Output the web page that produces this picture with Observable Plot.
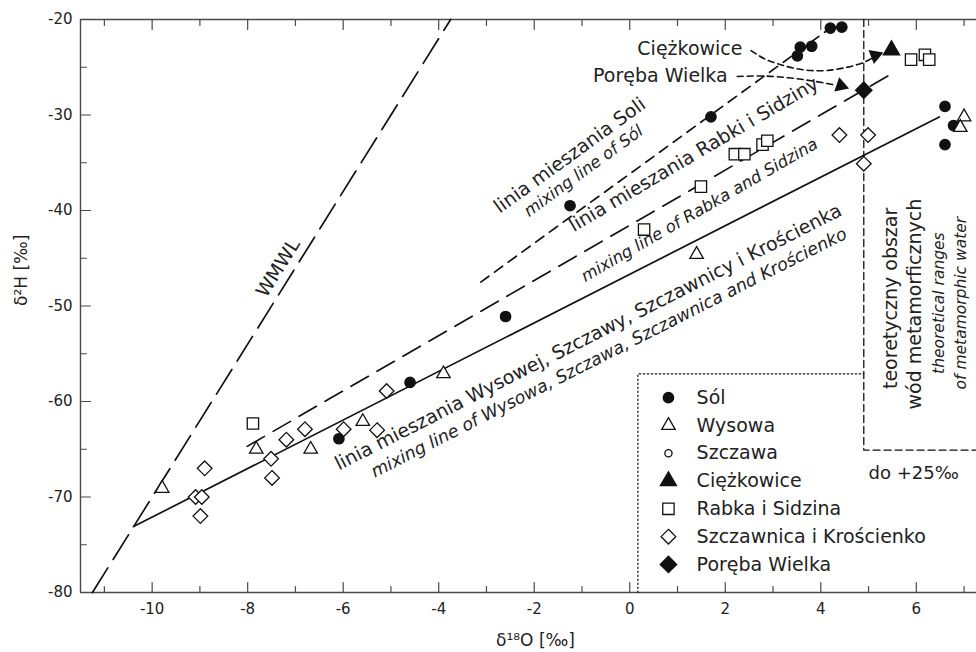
<!DOCTYPE html>
<html>
<head>
<meta charset="utf-8">
<script src="https://cdn.jsdelivr.net/npm/d3@7"></script>
<script src="https://cdn.jsdelivr.net/npm/@observablehq/plot@0.6"></script>
<style>
  html, body { margin: 0; padding: 0; background: #fff; overflow: hidden; }
  #chart svg { display: block; }
</style>
</head>
<body>
<div id="chart"></div>
<script>
// ---- Isotope data: δ18O (‰) and δ2H (‰) for each group of springs ----
const solO = [-6.09, -4.60, -2.60, -1.25, 1.70, 3.51, 3.57, 3.81, 4.20, 4.44, 6.60, 6.78, 6.60];
const solH = [-63.9, -58.0, -51.1, -39.5, -30.2, -23.8, -22.9, -22.8, -20.9, -20.8, -29.1, -31.1, -33.1];

const wysowaO = [-9.79, -7.82, -6.68, -5.59, -3.90, 1.40, 7.00, 6.92];
const wysowaH = [-69.1, -65.0, -65.0, -62.1, -57.1, -44.6, -30.2, -31.3];

const szczawaO = [];
const szczawaH = [];

const ciezkowiceO = [5.48];
const ciezkowiceH = [-23.2];

const rabkaO = [-7.89, 0.30, 1.49, 2.20, 2.40, 2.78, 2.88, 5.89, 6.18, 6.27];
const rabkaH = [-62.3, -42.0, -37.5, -34.1, -34.1, -33.1, -32.7, -24.2, -23.7, -24.2];

const szczawnicaO = [-8.90, -9.09, -8.96, -8.99, -7.51, -7.49, -7.19, -6.80, -5.99, -5.29, -5.09, 4.39, 4.99, 4.90];
const szczawnicaH = [-67.0, -70.0, -70.0, -72.0, -66.0, -68.0, -64.0, -62.9, -62.9, -63.0, -58.9, -32.1, -32.1, -35.1];

const porebaO = [4.90];
const porebaH = [-27.4];

// ---- Reference and mixing lines (end points, ‰) ----
const wmwlO = [-11.25, -3.75];
const wmwlH = [-80, -20];
const mixWysowaO = [-10.39, 6.48];
const mixWysowaH = [-73.1, -30.2];
const mixRabkaO = [-8.01, 5.55];
const mixRabkaH = [-64.7, -25.5];
const mixSolO = [-3.12, 4.20];
const mixSolH = [-47.5, -20.9];

// theoretical range of metamorphic water (corner of the box)
const metamorphicO = 4.9;
const metamorphicH = -65.1;

// ---- Axis ticks ----
const xDomain = [-11.5, 7.26];
const yDomain = [-80, -20];
const xMajor = [-10, -8, -6, -4, -2, 0, 2, 4, 6];
const xMinor = [-11, -9, -7, -5, -3, -1, 1, 3, 5, 7];
const yMajor = [-80, -70, -60, -50, -40, -30, -20];
const yMinor = [-75, -65, -55, -45, -35, -25];

// ---- Group names (legend order) ----
const groupNames = ["Sól", "Wysowa", "Szczawa", "Ciężkowice", "Rabka i Sidzina", "Szczawnica i Krościenko", "Poręba Wielka"];
const groupO = [solO, wysowaO, szczawaO, ciezkowiceO, rabkaO, szczawnicaO, porebaO];
const groupH = [solH, wysowaH, szczawaH, ciezkowiceH, rabkaH, szczawnicaH, porebaH];

// ---- Styling ----
const ink = "#111";
const axisInk = "#4a4a4a";
const font = "DejaVu Sans, sans-serif";
const symbolStyle = {
  "Sól":                     {symbol: "circle",   fill: ink,    r: 5.2},
  "Wysowa":                  {symbol: "triangle", fill: "white", r: 5.0},
  "Szczawa":                 {symbol: "circle",   fill: "white", r: 3.6},
  "Ciężkowice":              {symbol: "triangle", fill: ink,    r: 6.0},
  "Rabka i Sidzina":         {symbol: "square",   fill: "white", r: 6.4},
  "Szczawnica i Krościenko": {symbol: "diamond2", fill: "white", r: 6.6},
  "Poręba Wielka":           {symbol: "diamond2", fill: ink,    r: 7.4}
};

const zipLine = (xs, ys) => xs.map((x, i) => ({x, y: ys[i]}));

const points = groupNames.flatMap((g, k) =>
  groupO[k].map((x, i) => ({group: g, x, y: groupH[k][i]})));

// tick drawn as a plain stroke for the vector mark
const tickShape = {draw(context, l) { context.moveTo(0, 0); context.lineTo(0, -l); }};
const ticks = (values, opts, len) =>
  Plot.vector(values, {length: len, anchor: "start", shape: tickShape,
                       stroke: axisInk, strokeWidth: 1.2, ...opts});

// legend layout (in data units, inside the dotted box)
const legendSymbolX = 0.81, legendTextX = 1.40, legendTop = -59.6, legendStep = 2.91;
const legendBox = [{x: 0.17, y: -80}, {x: 0.17, y: -57.1}, {x: metamorphicO, y: -57.1}];
const legendRows = groupNames.map((g, i) => ({group: g, y: legendTop - i * legendStep}));

// annotation arrows (dashed curves) and their heads
const ciezArrow = [[2.54, -23.25], [2.82, -24.12], [3.10, -24.64], [3.44, -25.10], [3.79, -25.34],
                   [4.14, -25.34], [4.56, -24.99], [4.91, -24.47], [5.08, -24.02]];
const porebaArrow = [[2.25, -25.97], [2.84, -25.92], [3.37, -26.13], [3.83, -26.44], [4.30, -26.86]];
const arrowHeads = [{x: 5.14, y: -23.77, angle: 69}, {x: 4.42, y: -26.94, angle: 109}];

const lineLabels = [
  {text: "linia mieszania Wysowej, Szczawy, Szczawnicy i Krościenka", x: -6.09, y: -67.23, rotate: -26.9, size: 19, italic: false},
  {text: "mixing line of Wysowa, Szczawa, Szczawnica and Krościenko", x: -5.34, y: -67.99, rotate: -26.9, size: 17.4, italic: true},
  {text: "linia mieszania Soli", x: -2.72, y: -40.35, rotate: -36, size: 19, italic: false},
  {text: "mixing line of Sól", x: -2.11, y: -40.70, rotate: -36, size: 16.5, italic: true},
  {text: "linia mieszania Rabki i Sidziny", x: -1.17, y: -42.27, rotate: -30.5, size: 19, italic: false},
  {text: "mixing line of Rabka and Sidzina", x: -0.93, y: -47.5, rotate: -30, size: 16.5, italic: true}
];

const verticalLabels = [
  {text: "teoretyczny obszar", x: 5.46, y: -49.2, size: 19, italic: false},
  {text: "wód metamorficznych", x: 5.98, y: -49.8, size: 19, italic: false},
  {text: "theoretical ranges", x: 6.47, y: -49.7, size: 15.5, italic: true},
  {text: "of metamorphic water", x: 6.93, y: -49.7, size: 15.5, italic: true}
];

const marks = [
  // frame: left, top and bottom edges
  Plot.ruleX([xDomain[0]], {y1: yDomain[0], y2: yDomain[1], stroke: axisInk, strokeWidth: 1.4}),
  Plot.ruleY(yDomain, {x1: xDomain[0], x2: xDomain[1], stroke: axisInk, strokeWidth: 1.4}),

  // inward ticks on bottom, top and left
  ticks(xMajor, {x: d => d, y: yDomain[0], rotate: 0}, 10),
  ticks(xMinor, {x: d => d, y: yDomain[0], rotate: 0}, 6),
  ticks(xMajor, {x: d => d, y: yDomain[1], rotate: 180}, 10),
  ticks(xMinor, {x: d => d, y: yDomain[1], rotate: 180}, 6),
  ticks(yMajor, {y: d => d, x: xDomain[0], rotate: 90}, 10),
  ticks(yMinor, {y: d => d, x: xDomain[0], rotate: 90}, 6),

  // tick labels
  Plot.text(xMajor, {x: d => d, y: yDomain[0], text: d => String(d), dy: 17, lineAnchor: "middle",
                     fontSize: 15, fontFamily: font, fill: "#222"}),
  Plot.text(yMajor, {y: d => d, x: xDomain[0], text: d => String(d), dx: -8, textAnchor: "end",
                     lineAnchor: "middle", fontSize: 15, fontFamily: font, fill: "#222"}),

  // axis titles
  Plot.text(["δ¹⁸O [‰]"], {frameAnchor: "bottom", dx: 7, dy: 53, lineAnchor: "bottom",
                          fontSize: 17, fontFamily: font, fill: "#222"}),
  Plot.text(["δ²H [‰]"], {frameAnchor: "left", dx: -59, rotate: -90, lineAnchor: "middle",
                         fontSize: 17, fontFamily: font, fill: "#222"}),

  // theoretical range of metamorphic water
  Plot.line([{x: metamorphicO, y: yDomain[1]}, {x: metamorphicO, y: metamorphicH}, {x: xDomain[1], y: metamorphicH}],
            {x: "x", y: "y", stroke: ink, strokeWidth: 1.3, strokeDasharray: "7,4"}),
  Plot.text(["do +25‰"], {x: [5.0], y: [-67.54], textAnchor: "start", lineAnchor: "middle",
                          fontSize: 18, fontFamily: font, fill: "#222"}),
  ...verticalLabels.map(l => Plot.text([l.text], {x: [l.x], y: [l.y], rotate: -90, textAnchor: "middle",
                          lineAnchor: "middle", fontSize: l.size, fontStyle: l.italic ? "italic" : "normal",
                          fontFamily: font, fill: "#222"})),

  // legend box
  Plot.line(legendBox, {x: "x", y: "y", stroke: ink, strokeWidth: 1.2, strokeDasharray: "1.5,2.5"}),

  // reference line and mixing lines
  Plot.line(zipLine(wmwlO, wmwlH), {x: "x", y: "y", stroke: ink, strokeWidth: 1.7, strokeDasharray: "29,10"}),
  Plot.line(zipLine(mixWysowaO, mixWysowaH), {x: "x", y: "y", stroke: ink, strokeWidth: 1.7}),
  Plot.line(zipLine(mixRabkaO, mixRabkaH), {x: "x", y: "y", stroke: ink, strokeWidth: 1.7, strokeDasharray: "20,10"}),
  Plot.line(zipLine(mixSolO, mixSolH), {x: "x", y: "y", stroke: ink, strokeWidth: 1.7, strokeDasharray: "10,7"}),

  // annotation arrows
  Plot.line(ciezArrow, {x: d => d[0], y: d => d[1], curve: "catmull-rom", stroke: ink, strokeWidth: 1.6, strokeDasharray: "6,4"}),
  Plot.line(porebaArrow, {x: d => d[0], y: d => d[1], curve: "catmull-rom", stroke: ink, strokeWidth: 1.6, strokeDasharray: "6,4"}),
  ...arrowHeads.map(h => Plot.dot([h], {x: "x", y: "y", symbol: "triangle", r: 5.6, fill: ink, rotate: h.angle})),

  // samples
  ...groupNames.map(g => {
    const s = symbolStyle[g];
    return Plot.dot(points.filter(p => p.group === g),
      {x: "x", y: "y", symbol: s.symbol, r: s.r, fill: s.fill, stroke: ink, strokeWidth: 1.3});
  }),

  // legend entries
  ...legendRows.map(row => {
    const s = symbolStyle[row.group];
    return Plot.dot([row], {x: () => legendSymbolX, y: "y", symbol: s.symbol, r: s.r, fill: s.fill, stroke: ink, strokeWidth: 1.3});
  }),
  Plot.text(legendRows, {x: () => legendTextX, y: "y", text: "group", textAnchor: "start", lineAnchor: "middle",
                         fontSize: 19, fontFamily: font, fill: "#222"}),

  // line labels
  Plot.text(["WMWL"], {x: [-7.36], y: [-46.02], rotate: -58, textAnchor: "middle", lineAnchor: "middle",
                       fontSize: 19, fontFamily: font, fill: "#222"}),
  ...lineLabels.map(l => Plot.text([l.text], {x: [l.x], y: [l.y], rotate: l.rotate, textAnchor: "start",
                       lineAnchor: "bottom", fontSize: l.size, fontStyle: l.italic ? "italic" : "normal",
                       fontFamily: font, fill: "#222"})),
  Plot.text(["Ciężkowice"], {x: [2.36], y: [-23.04], textAnchor: "end", lineAnchor: "middle",
                             fontSize: 19, fontFamily: font, fill: "#222"}),
  Plot.text(["Poręba Wielka"], {x: [2.05], y: [-25.92], textAnchor: "end", lineAnchor: "middle",
                                fontSize: 19, fontFamily: font, fill: "#222"})
];

const chart = Plot.plot({
  width: 976,
  height: 652,
  marginLeft: 80,
  marginRight: 0,
  marginTop: 19,
  marginBottom: 60,
  x: {domain: xDomain, axis: null},
  y: {domain: yDomain, axis: null},
  style: {fontFamily: font, background: "white"},
  marks
});
document.getElementById("chart").append(chart);
</script>
</body>
</html>
